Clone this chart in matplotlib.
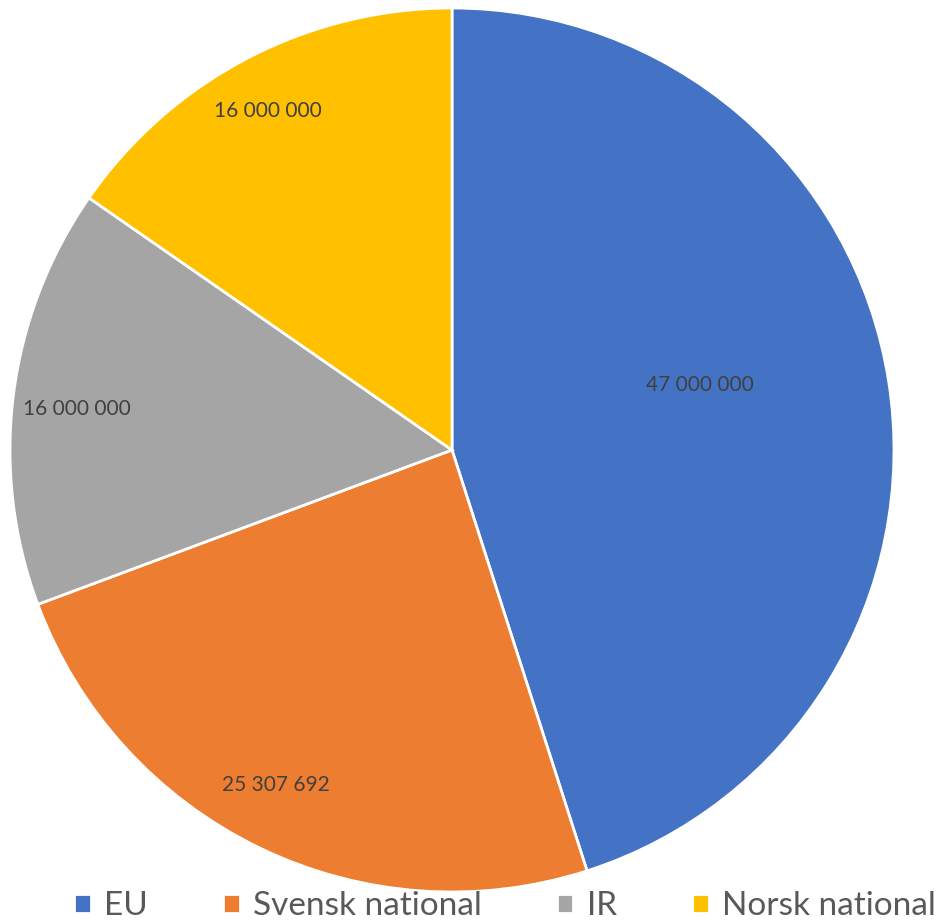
import numpy as np
import matplotlib
matplotlib.use("Agg")
import matplotlib.pyplot as plt

# data
categories = ["EU", "Svensk national", "IR", "Norsk national"]
values = [47000000, 25307692, 16000000, 16000000]
colors = ["#4472C4", "#ED7D31", "#A5A5A5", "#FFC000"]
# label placement: distance from centre (radius units), angle shift from wedge middle (deg)
label_dist = [0.58, 0.856, 0.853, 0.873]
label_shift = [5.9, -1.9, 1.0, 0.9]

def fmt(v):
    return f"{v:,}".replace(",", " ")

fig = plt.figure(figsize=(9.5, 9.23), dpi=100)
# pie centre at (452, 450) px from top-left, radius 442 px
cx, cy, r = 452, 450, 442
ax = fig.add_axes([(cx - r) / 950, (923 - cy - r) / 923, 2 * r / 950, 2 * r / 923])

wedges, _ = ax.pie(values, colors=colors, startangle=90, counterclock=False,
                   radius=1, wedgeprops=dict(edgecolor="white", linewidth=2))
ax.set_xlim(-1, 1)
ax.set_ylim(-1, 1)

for w, v, d, s in zip(wedges, values, label_dist, label_shift):
    mid = np.deg2rad((w.theta1 + w.theta2) / 2 + s)
    ax.text(d * np.cos(mid), d * np.sin(mid), fmt(v), ha="center", va="center",
            fontsize=15, color="#404040", family="Lato")

fig.legend(wedges, categories, loc="center", bbox_to_anchor=(505 / 950, 1 - 906 / 923),
           ncol=4, frameon=False, handlelength=0.5, handleheight=0.5, handletextpad=0.4,
           columnspacing=2.25, borderpad=0, borderaxespad=0,
           prop=dict(family="Lato", size=24), labelcolor="#595959")

fig.savefig("out.png", dpi=100)
